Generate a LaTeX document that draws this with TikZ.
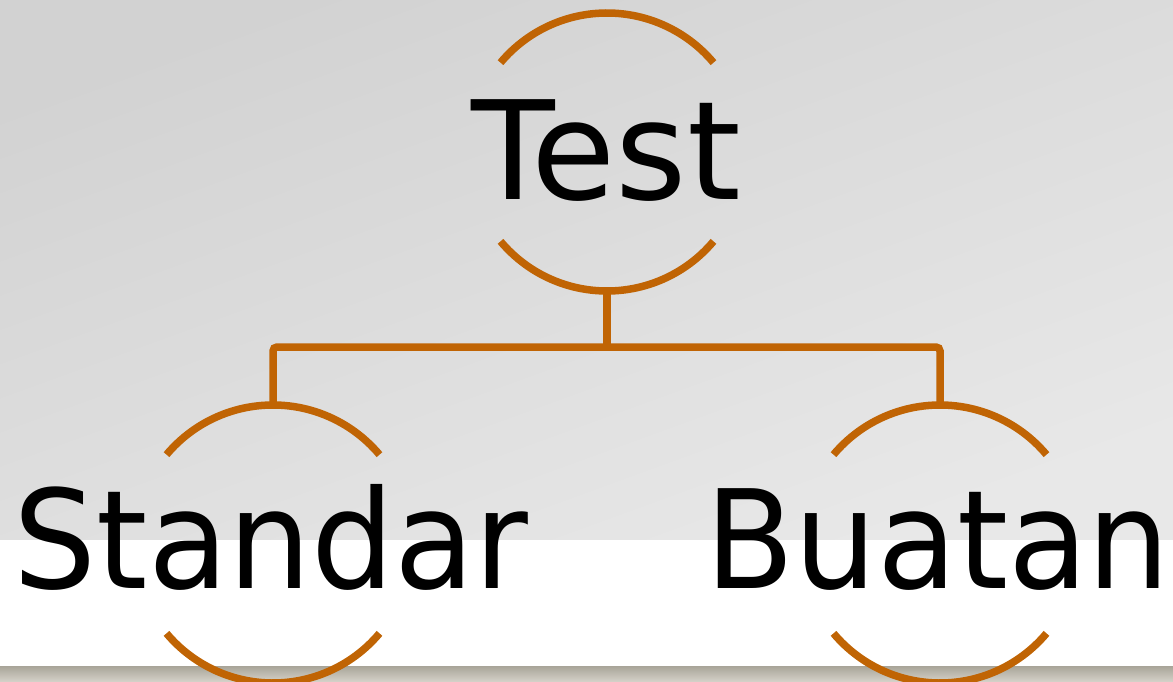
\documentclass[tikz,border=0pt]{standalone}
\usepackage{fontspec}
\setmainfont{DejaVu Sans}
\definecolor{arcor}{RGB}{192,100,4}
\definecolor{bgA}{RGB}{210,210,210}
\definecolor{bgB}{RGB}{232,232,232}
\definecolor{barA}{RGB}{168,164,152}
\definecolor{barB}{RGB}{214,211,202}
\tikzset{
  x=1pt, y=-1pt,
  circ/.style={circle, minimum size=278pt, inner sep=0pt, draw=none},
  arcline/.style={draw=arcor, line width=7.5pt},
  conn/.style={draw=arcor, line width=7.5pt, rounded corners=4pt},
  word/.style={anchor=base, inner sep=0pt, font=\fontsize{137}{137}\selectfont},
}
\begin{document}
\begin{tikzpicture}
\useasboundingbox (0,0) rectangle (1173,682);
\shade[top color=bgA, bottom color=bgB, shading angle=20] (0,0) rectangle (1173,540);
\fill[white] (0,540) rectangle (1173,666);
\shade[top color=barA, bottom color=barB] (0,666) rectangle (1173,682);
\node[circ] (t) at (607,152) {};
\node[circ] (s) at (273,544) {};
\node[circ] (b) at (940,544) {};
\foreach \n in {t,s,b}{
  \draw[arcline] ([shift={(40:139pt)}]\n.center) arc[start angle=40, end angle=140, radius=139pt];
  \draw[arcline] ([shift={(-40:139pt)}]\n.center) arc[start angle=-40, end angle=-140, radius=139pt];
}
\coordinate (j) at (607,347);
\draw[conn] (t.south) -- (j);
\draw[conn] (j) -| (s.north);
\draw[conn] (j) -| (b.north);
\node[word] (tt) at (606,200) {Test};
\node[word, xscale=0.955, transform shape] (st) at (271,588) {Standar};
\node[word, xscale=0.95, transform shape] (bt) at (938,588) {Buatan};
\end{tikzpicture}
\end{document}
